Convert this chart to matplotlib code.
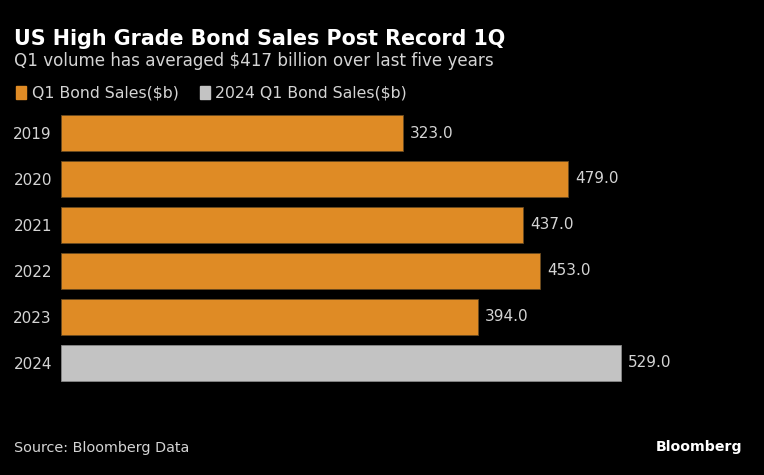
import matplotlib
matplotlib.use("Agg")
import matplotlib.pyplot as plt

years = ["2019", "2020", "2021", "2022", "2023", "2024"]
sales = [323.0, 479.0, 437.0, 453.0, 394.0, 529.0]
series = ["Q1 Bond Sales($b)", "Q1 Bond Sales($b)", "Q1 Bond Sales($b)",
          "Q1 Bond Sales($b)", "Q1 Bond Sales($b)", "2024 Q1 Bond Sales($b)"]

ORANGE = "#DF8B25"
GRAY = "#C3C3C3"
TEXT = "#D4D4D4"
colors = {"Q1 Bond Sales($b)": ORANGE, "2024 Q1 Bond Sales($b)": GRAY}

plt.rcParams["font.family"] = ["DejaVu Sans"]

fig = plt.figure(figsize=(7.64, 4.75), dpi=100, facecolor="black")
ax = fig.add_axes([0.0798, 0.1777, 0.889, 0.6004], facecolor="black")

pos = list(range(len(years)))
bars = ax.barh(pos, sales, height=0.8,
               color=[colors[s] for s in series],
               edgecolor="#6a4a20", linewidth=0.6)
bars[-1].set_edgecolor("#888888")

for p, v in zip(pos, sales):
    ax.text(v + 7, p, f"{v:.1f}", va="center", ha="left",
            color=TEXT, fontsize=11)

ax.set_xlim(0, 642)
ax.set_ylim(5.6, -0.6)
ax.set_yticks(pos)
ax.set_yticklabels(years, color=TEXT, fontsize=11)
ax.tick_params(axis="y", length=0, pad=6.5)
ax.set_xticks([])
for sp in ax.spines.values():
    sp.set_visible(False)

fig.text(0.018, 0.918, "US High Grade Bond Sales Post Record 1Q",
         color="white", fontsize=14.9, fontweight="bold", va="center")
fig.text(0.018, 0.871, "Q1 volume has averaged $417 billion over last five years",
         color=TEXT, fontsize=12.1, va="center")

# legend
fig.patches.append(plt.Rectangle((0.021, 0.792), 0.013, 0.026, color=ORANGE,
                                 transform=fig.transFigure, figure=fig))
fig.text(0.042, 0.805, "Q1 Bond Sales($b)", color=TEXT, fontsize=11.3, va="center")
fig.patches.append(plt.Rectangle((0.262, 0.792), 0.013, 0.026, color=GRAY,
                                 transform=fig.transFigure, figure=fig))
fig.text(0.282, 0.805, "2024 Q1 Bond Sales($b)", color=TEXT, fontsize=11.3, va="center")

fig.text(0.018, 0.057, "Source: Bloomberg Data", color=TEXT, fontsize=10.4, va="center")
fig.text(0.972, 0.059, "Bloomberg", color="white", fontsize=10.2,
         fontweight="bold", va="center", ha="right")

fig.savefig("out.png", dpi=100, facecolor="black")
